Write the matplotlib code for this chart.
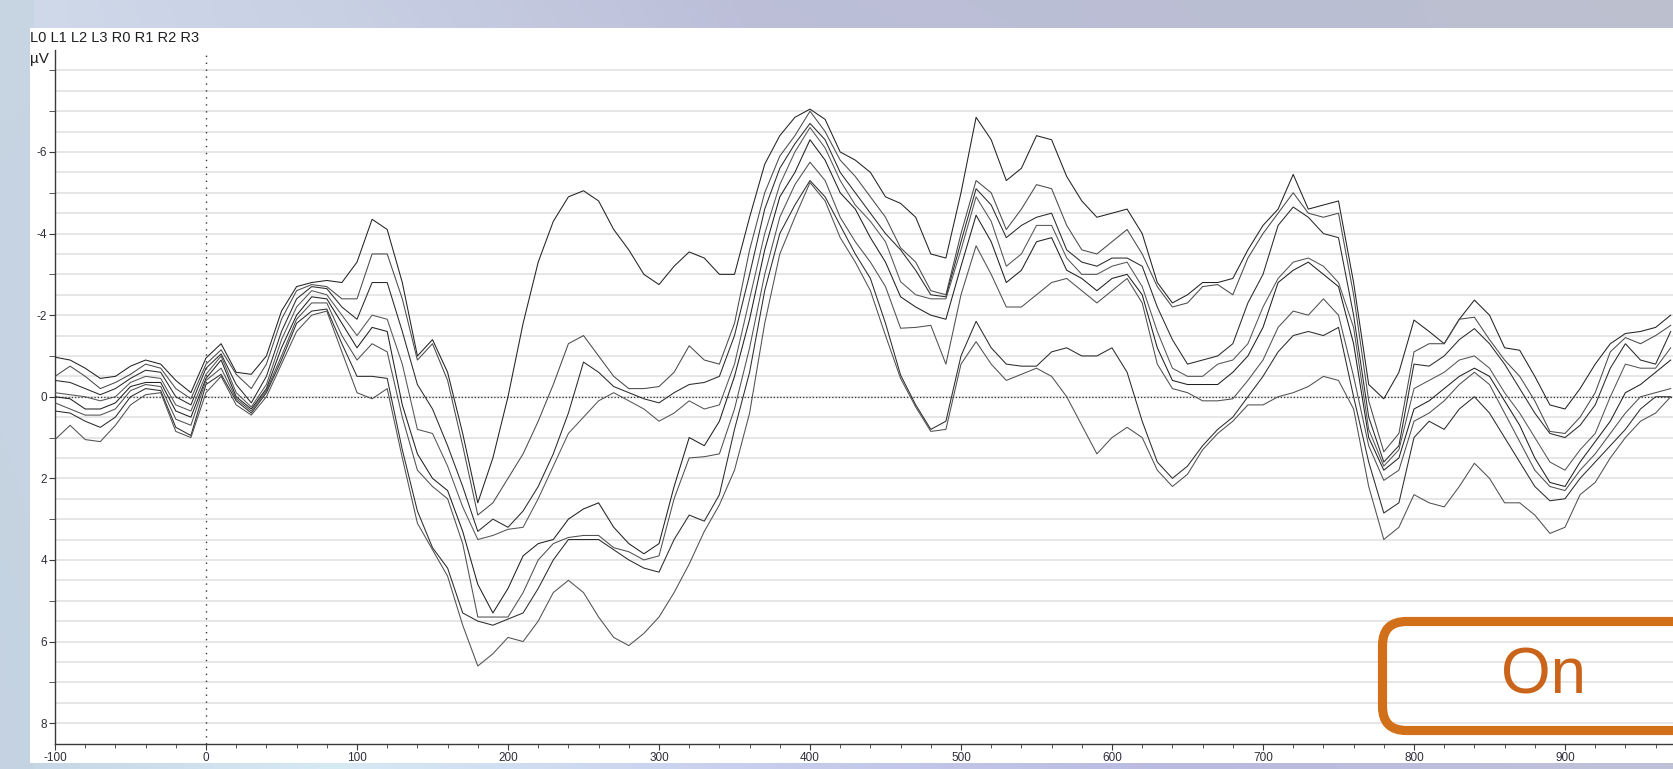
import numpy as np
import matplotlib
matplotlib.use("Agg")
import matplotlib.pyplot as plt
from matplotlib.patches import FancyBboxPatch, Rectangle
from matplotlib.ticker import FixedLocator, MultipleLocator
from matplotlib.transforms import IdentityTransform

plt.rcParams["font.family"] = ["Liberation Sans", "DejaVu Sans"]

# Sample times in ms (10 ms steps)
times = np.arange(-100, 971, 10)

channel_names = ["L0", "L1", "L2", "L3", "R0", "R1", "R2", "R3"]

# Channel averages in microvolts, one value per sample time
L0 = [-0.97, -0.9, -0.7, -0.45, -0.5, -0.75, -0.9, -0.8, -0.4, -0.1,
      -0.95, -1.3, -0.6, -0.55, -1.0, -2.1, -2.7, -2.8, -2.85, -2.8,
      -3.3, -4.35, -4.1, -2.8, -1.0, -1.4, -0.6, 0.9, 2.6, 1.5,
      0.0, -1.8, -3.3, -4.3, -4.9, -5.05, -4.8, -4.1, -3.6, -3.0,
      -2.75, -3.2, -3.55, -3.4, -3.0, -3.0, -4.4, -5.7, -6.4, -6.85,
      -7.05, -6.8, -6.0, -5.8, -5.5, -4.9, -4.74, -4.4, -3.5, -3.4,
      -5.0, -6.85, -6.3, -5.3, -5.6, -6.4, -6.3, -5.4, -4.8, -4.4,
      -4.5, -4.6, -4.0, -2.8, -2.3, -2.5, -2.8, -2.8, -2.9, -3.6,
      -4.2, -4.6, -5.45, -4.6, -4.7, -4.8, -2.8, -0.3, 0.05, -0.6,
      -1.88, -1.6, -1.3, -1.9, -2.37, -2.0, -1.2, -1.14, -0.5, 0.2,
      0.3, -0.2, -0.8, -1.3, -1.55, -1.6, -1.7, -2.0]
L1 = [-0.5, -0.75, -0.5, -0.2, -0.35, -0.55, -0.8, -0.7, -0.2, 0.05,
      -0.8, -1.15, -0.55, -0.2, -0.8, -1.9, -2.6, -2.75, -2.7, -2.4,
      -2.4, -3.5, -3.5, -2.4, -0.9, -1.3, -0.4, 1.2, 2.9, 2.6,
      2.0, 1.4, 0.6, -0.3, -1.3, -1.5, -1.0, -0.5, -0.2, -0.2,
      -0.25, -0.6, -1.25, -0.9, -0.8, -1.8, -3.6, -5.0, -5.9, -6.4,
      -7.0, -6.5, -5.8, -5.4, -4.9, -4.4, -3.65, -3.3, -2.6, -2.5,
      -4.0, -5.3, -5.0, -4.1, -4.6, -5.2, -5.1, -4.2, -3.6, -3.5,
      -3.8, -4.1, -3.5, -2.7, -2.2, -2.3, -2.7, -2.75, -2.5, -3.4,
      -4.0, -4.5, -5.0, -4.5, -4.4, -4.5, -2.5, 0.1, 1.35, 0.9,
      -1.1, -1.3, -1.3, -1.9, -1.95, -1.4, -0.9, -0.5, 0.1, 0.85,
      0.9, 0.5, -0.1, -1.1, -1.45, -1.3, -1.5, -1.75]
L2 = [-0.4, -0.35, -0.2, -0.05, -0.2, -0.45, -0.65, -0.6, 0.0, 0.2,
      -0.7, -1.05, -0.3, 0.15, -0.5, -1.6, -2.4, -2.7, -2.65, -2.2,
      -1.9, -2.8, -2.8, -1.6, -0.3, 0.3, 1.2, 2.2, 3.3, 3.0,
      3.2, 2.8, 2.2, 1.4, 0.4, -0.85, -0.6, -0.25, -0.1, 0.05,
      0.15, -0.1, -0.3, -0.35, -0.5, -1.5, -3.0, -4.6, -5.6, -6.2,
      -6.7, -6.3, -5.5, -5.0, -4.5, -4.0, -3.6, -3.1, -2.5, -2.45,
      -3.8, -5.1, -4.7, -3.9, -4.2, -4.4, -4.5, -3.6, -3.3, -3.2,
      -3.4, -3.4, -3.2, -2.2, -1.4, -0.8, -0.9, -1.0, -1.3, -2.3,
      -3.0, -4.2, -4.65, -4.4, -4.0, -3.9, -2.0, 0.5, 1.6, 1.2,
      -0.8, -0.75, -1.0, -1.4, -1.67, -1.3, -0.8, -0.2, 0.4, 0.9,
      1.0, 0.7, 0.2, -0.7, -1.3, -0.9, -0.8, -1.6]
L3 = [-0.1, -0.05, 0.0, 0.1, 0.0, -0.35, -0.5, -0.45, 0.2, 0.35,
      -0.55, -1.0, -0.1, 0.25, -0.3, -1.4, -2.2, -2.6, -2.5, -2.0,
      -1.5, -2.0, -1.9, -0.8, 0.8, 0.9, 1.7, 2.7, 3.5, 3.4,
      3.25, 3.2, 2.5, 1.7, 0.9, 0.5, 0.1, -0.1, 0.1, 0.3,
      0.6, 0.4, 0.1, 0.3, 0.2, -0.8, -2.4, -4.0, -5.2, -6.0,
      -6.6, -6.1, -5.3, -4.7, -4.3, -3.8, -2.82, -2.5, -2.4, -2.4,
      -3.6, -4.9, -4.3, -3.2, -3.5, -4.2, -4.2, -3.4, -3.0, -3.0,
      -3.2, -3.3, -2.7, -1.6, -0.7, -0.5, -0.5, -0.8, -0.9, -1.3,
      -2.2, -2.9, -3.3, -3.4, -3.2, -2.8, -1.7, 0.8, 1.7, 1.3,
      -0.2, -0.4, -0.6, -0.9, -1.0, -0.7, -0.1, 0.4, 1.0, 1.6,
      1.8, 1.3, 0.9, 0.0, -0.8, -0.7, -0.7, -1.2]
R0 = [0.0, 0.05, 0.3, 0.3, 0.15, -0.25, -0.35, -0.35, 0.35, 0.5,
      -0.45, -0.9, 0.0, 0.3, -0.2, -1.2, -2.0, -2.45, -2.4, -1.8,
      -1.2, -1.7, -1.6, 0.2, 1.4, 2.0, 2.3, 3.3, 4.6, 5.3,
      4.7, 3.9, 3.6, 3.5, 3.0, 2.75, 2.6, 3.2, 3.6, 3.85,
      3.6, 2.2, 1.0, 1.2, 0.6, -0.5, -1.9, -3.6, -4.9, -5.5,
      -6.3, -5.8, -5.0, -4.6, -3.9, -3.3, -2.45, -2.2, -2.0, -1.9,
      -3.2, -4.45, -3.8, -2.8, -3.1, -3.8, -3.9, -3.1, -2.9, -2.6,
      -2.9, -3.0, -2.5, -1.2, -0.4, -0.3, -0.3, -0.3, -0.6, -1.0,
      -1.7, -2.8, -3.1, -3.3, -3.0, -2.7, -1.3, 1.0, 1.8, 1.5,
      0.3, 0.1, -0.2, -0.5, -0.7, -0.5, 0.1, 0.7, 1.5, 2.1,
      2.2, 1.6, 1.1, 0.6, -0.1, -0.3, -0.6, -0.9]
R1 = [0.15, 0.3, 0.45, 0.45, 0.3, -0.15, -0.3, -0.25, 0.55, 0.7,
      -0.4, -0.7, 0.05, 0.35, -0.15, -1.0, -1.9, -2.3, -2.3, -1.5,
      -0.9, -1.3, -1.1, 0.5, 1.8, 2.2, 2.5, 3.6, 5.4, 5.4,
      5.4, 4.8, 4.0, 3.6, 3.45, 3.4, 3.4, 3.7, 3.8, 4.0,
      3.9, 2.5, 1.5, 1.47, 1.4, 0.3, -1.2, -3.0, -4.4, -5.2,
      -5.75, -5.3, -4.4, -3.8, -3.3, -2.7, -1.68, -1.7, -1.75, -0.8,
      -2.5, -3.7, -3.0, -2.2, -2.2, -2.5, -2.8, -2.9, -2.6, -2.3,
      -2.6, -2.9, -2.3, -0.8, -0.2, -0.1, 0.1, 0.1, 0.05, -0.4,
      -0.9, -1.7, -2.1, -2.0, -2.4, -2.0, -0.5, 1.2, 2.05, 1.8,
      0.6, 0.4, 0.1, -0.3, -0.6, -0.3, 0.4, 1.1, 1.8, 2.2,
      2.3, 1.8, 1.4, 0.9, 0.4, 0.0, -0.1, -0.2]
R2 = [0.35, 0.4, 0.6, 0.75, 0.5, 0.0, -0.2, -0.15, 0.75, 0.95,
      -0.3, -0.55, 0.1, 0.4, -0.1, -0.9, -1.8, -2.1, -2.15, -1.3,
      -0.5, -0.5, -0.45, 1.3, 2.8, 3.7, 4.2, 5.3, 5.5, 5.6,
      5.45, 5.3, 4.7, 4.0, 3.5, 3.5, 3.5, 3.75, 4.0, 4.2,
      4.3, 3.5, 2.9, 3.05, 2.4, 0.8, -0.6, -2.6, -4.0, -4.7,
      -5.3, -4.9, -4.2, -3.5, -2.9, -1.8, -0.53, 0.2, 0.8, 0.6,
      -1.0, -1.85, -1.2, -0.8, -0.75, -0.75, -1.1, -1.2, -1.0, -1.0,
      -1.2, -0.6, 0.6, 1.6, 2.0, 1.7, 1.2, 0.8, 0.5, 0.0,
      -0.5, -1.1, -1.5, -1.6, -1.5, -1.7, 0.0, 1.6, 2.85, 2.6,
      1.0, 0.6, 0.8, 0.3, 0.0, 0.4, 1.0, 1.6, 2.2, 2.55,
      2.5, 2.0, 1.6, 1.2, 0.8, 0.3, 0.0, 0.0]
R3 = [1.05, 0.7, 1.05, 1.1, 0.7, 0.2, -0.05, -0.1, 0.85, 1.0,
      -0.1, -0.5, 0.2, 0.45, 0.0, -0.8, -1.6, -2.0, -2.1, -1.1,
      -0.1, 0.05, -0.2, 1.5, 3.1, 3.75, 4.4, 5.6, 6.6, 6.3,
      5.9, 6.0, 5.5, 4.8, 4.5, 4.8, 5.4, 5.9, 6.1, 5.8,
      5.4, 4.8, 4.1, 3.3, 2.65, 1.8, 0.4, -1.8, -3.5, -4.4,
      -5.25, -4.8, -3.9, -3.3, -2.6, -1.5, -0.45, 0.25, 0.85, 0.8,
      -0.8, -1.35, -0.8, -0.4, -0.55, -0.7, -0.5, 0.0, 0.7, 1.4,
      1.0, 0.75, 1.0, 1.8, 2.2, 1.9, 1.3, 0.9, 0.6, 0.2,
      0.2, 0.0, -0.1, -0.25, -0.5, -0.4, 0.3, 2.2, 3.5, 3.2,
      2.4, 2.6, 2.7, 2.2, 1.63, 2.0, 2.6, 2.6, 2.9, 3.35,
      3.2, 2.4, 2.1, 1.5, 1.0, 0.6, 0.4, 0.0]

channels = [L0, L1, L2, L3, R0, R1, R2, R3]

x_ticks = list(range(-100, 901, 100))
y_tick_labels = [-6, -4, -2, 0, 2, 4, 6, 8]

W, H = 1673, 769
fig = plt.figure(figsize=(W / 100, H / 100), dpi=100)

# soft blue/lavender window backdrop
cols_x = np.array([0.0, 0.2, 0.45, 0.7, 1.0])
top_c = np.array([[208, 218, 234], [200, 208, 228], [188, 190, 216], [186, 190, 212], [188, 192, 206]]) / 255
bot_c = np.array([[196, 212, 228], [214, 234, 244], [200, 206, 238], [186, 186, 224], [192, 194, 216]]) / 255
xs = np.linspace(0, 1, W)
top_row = np.stack([np.interp(xs, cols_x, top_c[:, k]) for k in range(3)], axis=1)
bot_row = np.stack([np.interp(xs, cols_x, bot_c[:, k]) for k in range(3)], axis=1)
wy = np.linspace(0, 1, H)[:, None, None]
bg = top_row[None, :, :] * (1 - wy) + bot_row[None, :, :] * wy
bg[:, :34, :] = bg[:, :34, :] * 0.3 + np.array([196, 210, 224]) / 255 * 0.7
fig.figimage(bg, 0, 0, zorder=0)

# white chart panel
fig.add_artist(Rectangle((30 / W, 6 / H), (W - 30) / W, 735 / H,
                         transform=fig.transFigure, facecolor="white",
                         edgecolor="none", zorder=1))

ax = fig.add_axes([55 / W, (H - 743.5) / H, (W - 55) / W, 693.5 / H], zorder=2)
ax.set_facecolor("white")
ax.set_xlim(-100, -100 + (W - 55) / 1.51)
ax.set_ylim(8.5, -8.5)

for s in ("top", "right"):
    ax.spines[s].set_visible(False)
for s in ("left", "bottom"):
    ax.spines[s].set_color("#3a3a3a")
    ax.spines[s].set_linewidth(1.0)

# horizontal grid every 0.5 uV
for g in np.arange(-8.0, 8.01, 0.5):
    ax.axhline(g, color="#e2e2e2", lw=1.2, zorder=0.5)

ax.axhline(0, color="#333333", lw=0.9, ls=(0, (1, 1.6)), zorder=1)
ax.axvline(0, color="#333333", lw=1.0, ls=(0, (1, 4)), zorder=1)

tones = ["#222222", "#4a4a4a", "#2a2a2a", "#555555", "#202020", "#4f4f4f", "#2c2c2c", "#505050"]
for vals, c in zip(channels, tones):
    ax.plot(times, vals, color=c, lw=0.75, zorder=3, solid_joinstyle="round")

ax.xaxis.set_major_locator(FixedLocator(x_ticks))
ax.xaxis.set_minor_locator(MultipleLocator(20))
ax.set_xticklabels([str(v) for v in x_ticks])
ax.yaxis.set_major_locator(FixedLocator(y_tick_labels))
ax.yaxis.set_minor_locator(FixedLocator([-8, -7, -5, -3, -1, 1, 3, 5, 7]))
ax.set_yticklabels([str(v) for v in y_tick_labels])
ax.tick_params(axis="both", which="both", direction="out", colors="#3a3a3a",
               labelcolor="#2e2e3a", labelsize=8.5)
ax.tick_params(axis="x", which="major", length=4, pad=2)
ax.tick_params(axis="x", which="minor", length=3)
ax.tick_params(axis="y", which="both", length=4, pad=1.5)

# channel header and unit
fig.text(30 / W, 1 - 37.5 / H, " ".join(channel_names),
         ha="left", va="center", fontsize=10.5, color="#202020")
fig.text(30 / W, 1 - 58.5 / H, "µV", ha="left", va="center",
         fontsize=11, color="#202020")

# condition tag
orange = "#D2701A"
fig.add_artist(FancyBboxPatch((1382.5, 38.5), 520, 109,
                              boxstyle="round,pad=0,rounding_size=24",
                              transform=IdentityTransform(), facecolor="none",
                              edgecolor=orange, lw=6.6, zorder=5))
fig.text(1543 / W, 1 - 677 / H, "On", ha="center", va="center",
         fontsize=46, color="#C9641A", zorder=6)

fig.savefig("out.png", dpi=100)
